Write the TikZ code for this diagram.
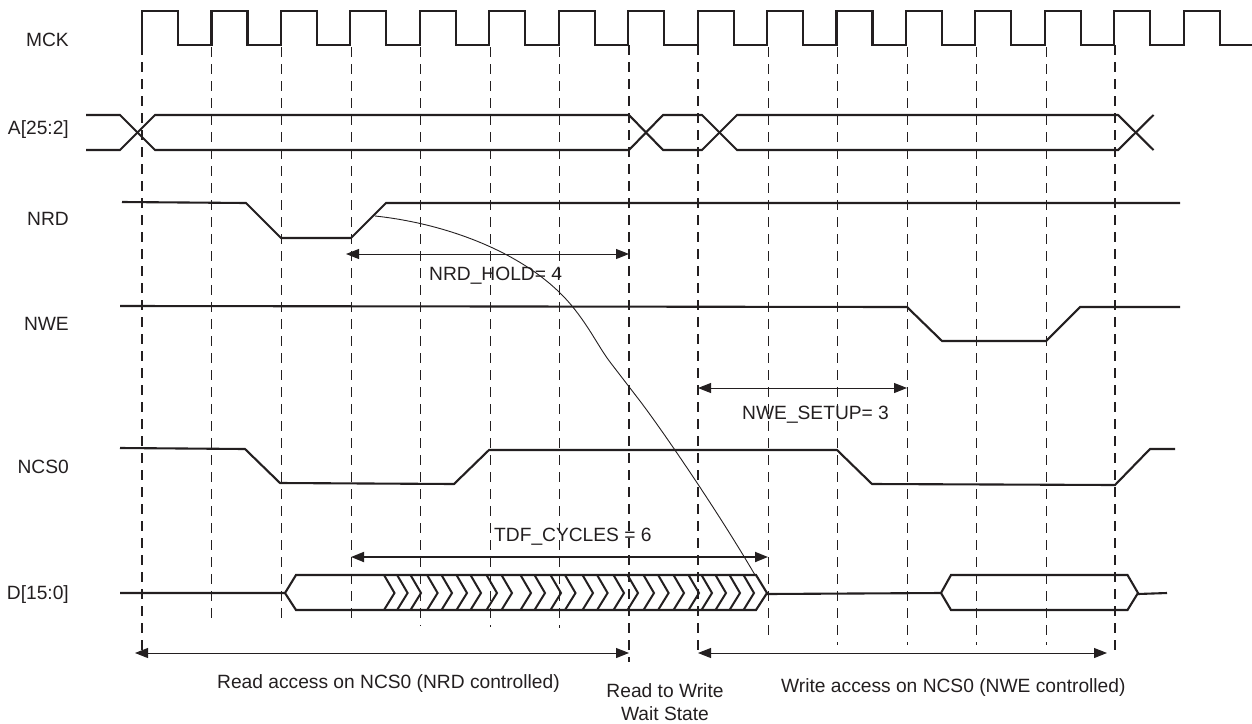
\documentclass[tikz,border=0pt]{standalone}
\usepackage{fontspec}
\setmainfont{Liberation Sans}
\usetikzlibrary{arrows.meta}
\definecolor{ink}{HTML}{231F20}
\tikzset{
  x=1pt,y=-1pt,
  sig/.style={draw=ink,line width=2.1pt,line join=miter},
  thindash/.style={draw=ink,line width=1pt,dash pattern=on 10pt off 7pt},
  thickdash/.style={draw=ink,line width=2.1pt,dash pattern=on 10pt off 7pt},
  lab/.style={text=ink,font=\fontsize{19.2pt}{22pt}\selectfont,inner sep=0pt},
  dim/.style={draw=ink,line width=1pt,{Triangle[length=13pt,width=10pt]}-{Triangle[length=13pt,width=10pt]}},
  dimbold/.style={draw=ink,line width=1.8pt,{Triangle[length=13pt,width=10pt]}-{Triangle[length=13pt,width=10pt]}},
  curveline/.style={draw=ink,line width=0.9pt},
  chev/.style={draw=ink,line width=2pt}
}
\begin{document}
\begin{tikzpicture}
\useasboundingbox (0,0) rectangle (1252,723);
% guide lines
\foreach \x/\e in {211/622,281/622,351/620,420/626,490/627,559/628,768/641,837/645,907/645,976/645,1046/645}
  \draw[thindash] (\x,47) -- (\x,\e);
\foreach \x/\e in {142/655,629/662,698/650,1115/653}
  \draw[thickdash] (\x,45) -- (\x,\e);
% clock
\draw[sig] (142,45) -- (142,11)
  \foreach \i in {0,...,14} { -- ({142+69.45*\i},11) -- ({178+69.45*\i},11) -- ({178+69.45*\i},45) -- ({211.45+69.45*\i},45) -- ({211.45+69.45*\i},11) }
  -- (1220,11) -- (1220,45) -- (1252,45);
% address
\draw[sig] (86,115) -- (120,115) -- (155,150) -- (629,150) -- (663,115) -- (702,115) -- (737,150) -- (1118,150) -- (1153.5,115);
\draw[sig] (86,150) -- (120,150) -- (155,115) -- (629,115) -- (663,150) -- (702,150) -- (737,115) -- (1118,115) -- (1153.5,150);
% NRD, NWE, NCS0
\draw[sig] (122,202) -- (246,203) -- (281,238) -- (351,238) -- (386,203) -- (1180,203);
\draw[sig] (120,306) -- (907,307) -- (942,341) -- (1046,341) -- (1080,307) -- (1180,307);
\draw[sig] (120,448) -- (245,449) -- (280,483) -- (454,484) -- (489,450) -- (837,450) -- (872,484) -- (1115,485) -- (1150,449) -- (1175,449);
% data
\draw[sig] (120,593) -- (285,593) (767,594) -- (941,593);
\draw[sig] (285,593) -- (296,575) -- (756,575) -- (767,593) -- (756,610) -- (296,610) -- cycle;
\draw[sig] (941,593) -- (951,575) -- (1127.5,575) -- (1138,593) -- (1127.5,610) -- (951,610) -- cycle;
\draw[sig] (1138,594) -- (1167,593);
\foreach \t in {394.5,407.6,421,437.6,452,467,481,497,512,531,545,561,575.5,593,607.6,624,638,654,668.6,684,699,712,726,740,754}
  \draw[chev] ({\t-10.5},575) -- (\t,593) -- ({\t-10.5},610);
% signal names
\node[lab,anchor=base east] (mck) at (69,46.5) {MCK};
\node[lab,anchor=base east] (addr) at (69,134.5) {A[25:2]};
\node[lab,anchor=base east] (nrd) at (69,225.5) {NRD};
\node[lab,anchor=base east] (nwe) at (69,330) {NWE};
\node[lab,anchor=base east] (ncs) at (69,473) {NCS0};
\node[lab,anchor=base east] (data) at (69,599) {D[15:0]};
% timing labels
\node[lab,anchor=base west] (hold) at (429,280) {NRD\_HOLD= 4};
\node[lab,anchor=base west] (setup) at (742,419) {NWE\_SETUP= 3};
\node[lab,anchor=base west] (tdf) at (494,541) {TDF\_CYCLES = 6};
\node[lab,anchor=base west] (rd) at (217,688) {Read access on NCS0 (NRD controlled)};
\node[lab,anchor=base] (w1) at (665,697) {Read to Write};
\node[lab,anchor=base] (w2) at (665,720) {Wait State};
\node[lab,anchor=base west] (wr) at (781,692.5) {Write access on NCS0 (NWE controlled)};
% dimension arrows
\coordinate (ha) at (346,254); \coordinate (hb) at (629,254);
\coordinate (sa) at (698,388); \coordinate (sb) at (907,388);
\coordinate (ta) at (351,557); \coordinate (tb) at (768,557);
\coordinate (ra) at (135,653); \coordinate (rb) at (629,653);
\coordinate (wa) at (698,653); \coordinate (wb) at (1107,653);
\draw[dim] (ha) -- (hb);
\draw[dim] (sa) -- (sb);
\draw[dimbold] (ta) -- (tb);
\draw[dim] (ra) -- (rb);
\draw[dim] (wa) -- (wb);
% curve
\draw[curveline] (375,216) .. controls (450,224) and (530,255) .. (572,306) .. controls (590,328) and (598,346) .. (610,362) -- (640,401) .. controls (665,434) and (720,515) .. (755,575);
\end{tikzpicture}
\end{document}
